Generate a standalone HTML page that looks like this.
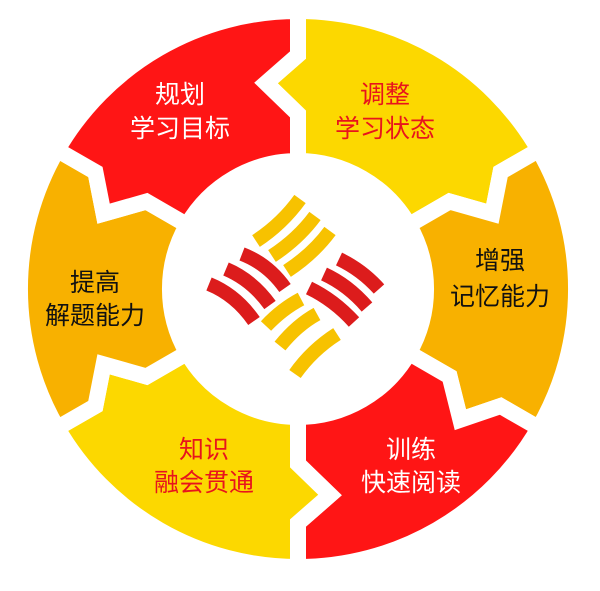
<!DOCTYPE html>
<html><head><meta charset="utf-8"><style>
html,body{margin:0;padding:0;background:#fff;}
svg{display:block}
text{font-family:"Liberation Sans","Noto Sans CJK SC",sans-serif;font-size:25px;text-anchor:middle;}
</style></head><body>
<svg id="s" width="600" height="591" viewBox="0 0 600 591" xmlns="http://www.w3.org/2000/svg">
<g id="segs"></g>
<circle cx="298" cy="289" r="135" fill="#fff"/>
<g fill="none" stroke-width="14" stroke-linecap="butt">
<g stroke="#f7c200">
<path d="M256 241 Q282 224 300 199"/>
<path d="M272 256 Q298 239 315 216"/>
<path d="M287 271 Q313 254 330 231"/>
<path d="M266 326 Q282 309 301 299"/>
<path d="M280 346 Q297 325 317 314"/>
<path d="M295 374 Q312 350 337 334"/>
</g>
<g stroke="#dc1c1c">
<path d="M242 254 Q268 264 285 288"/>
<path d="M226 269 Q252 280 270 305"/>
<path d="M209 284 Q236 295 254 321"/>
<path d="M309 288 Q334 300 354 322"/>
<path d="M324 274 Q348 285 367 307"/>
<path d="M339 259 Q362 270 379 289"/>
</g>
</g>
<text x="180" y="103" fill="#fff">规划</text>
<text x="180" y="137" fill="#fff">学习目标</text>
<text x="385" y="103" fill="#e8141c">调整</text>
<text x="385" y="137" fill="#e8141c">学习状态</text>
<text x="500" y="269" fill="#111">增强</text>
<text x="500" y="305" fill="#111">记忆能力</text>
<text x="95" y="291" fill="#111">提高</text>
<text x="95" y="324" fill="#111">解题能力</text>
<text x="204" y="458" fill="#e8141c">知识</text>
<text x="204" y="491" fill="#e8141c">融会贯通</text>
<text x="411" y="458" fill="#fff">训练</text>
<text x="411" y="491" fill="#fff">快速阅读</text>
</svg>
<script>
(function(){
var cx=298,cy=289,R=278,r=128;
var cols=["#fcd800","#f8b100","#ff1515","#fcd800","#f8b100","#ff1515"];
var sgn={0:-1,60:1,120:1,180:-1,240:1,300:-1};
function P(a,rad,off){var t=a*Math.PI/180;var ux=Math.sin(t),uy=-Math.cos(t),px=Math.cos(t),py=Math.sin(t);
 return [(cx+ux*rad+px*off).toFixed(1),(cy+uy*rad+py*off).toFixed(1)];}
function bnd(b){var s=sgn[b%360];return [P(b,r,0),P(b,175,0),P(b,206,32*s),P(b,234,0),P(b,R,0)];}
var g=document.getElementById('segs');var html='';
for(var k=0;k<6;k++){
 var a0=k*60,a1=a0+60;
 var B0=bnd(a0),B1=bnd(a1);
 var d='M'+B0[0].join(' ');
 for(var i=1;i<5;i++)d+=' L'+B0[i].join(' ');
 d+=' A'+R+' '+R+' 0 0 1 '+B1[4].join(' ');
 for(var i=3;i>=0;i--)d+=' L'+B1[i].join(' ');
 d+=' A'+r+' '+r+' 0 0 0 '+B0[0].join(' ')+' Z';
 html+='<path d="'+d+'" fill="'+cols[k]+'" stroke="#fff" stroke-width="16" stroke-linejoin="miter"/>';
}
g.innerHTML=html;
})();
</script>
</body></html>
